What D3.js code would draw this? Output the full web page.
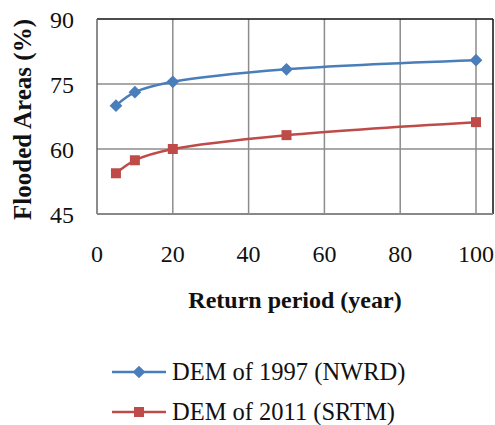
<!DOCTYPE html>
<html><head><meta charset="utf-8">
<script src="https://cdn.jsdelivr.net/npm/d3@7"></script>
<style>body{margin:0;background:#fff}svg{display:block}svg text{font-family:"Liberation Serif";}</style>
</head><body>
<script>
const returnPeriods = [5, 10, 20, 50, 100];
const dem1997 = [70.0, 73.1, 75.5, 78.4, 80.5];
const dem2011 = [54.4, 57.4, 60.0, 63.2, 66.2];
const seriesNames = ["DEM of 1997 (NWRD)", "DEM of 2011 (SRTM)"];
const xTicks = [0, 20, 40, 60, 80, 100];
const yTicks = [45, 60, 75, 90];

(function () {
const W = 495, H = 425;
const pL = 97, pT = 19, pB = 214, pR = 493;
const svg = d3.select("body").append("svg").attr("width", W).attr("height", H);
const font = '"Liberation Serif"';

const x = d3.scaleLinear().domain([0, 100 * (pR - pL) / 379]).range([pL, pR]);
const y = d3.scaleLinear().domain([45, 90]).range([pB, pT]);

// gridlines
svg.append("g").selectAll("line").data(xTicks.filter(d => d > 0)).join("line")
  .attr("x1", d => x(d)).attr("x2", d => x(d)).attr("y1", pT).attr("y2", pB)
  .attr("stroke", "#8c8c8c").attr("stroke-width", 1.5);
svg.append("g").selectAll("line").data(yTicks.filter(d => d > 45 && d < 90)).join("line")
  .attr("x1", pL).attr("x2", pR).attr("y1", d => y(d)).attr("y2", d => y(d))
  .attr("stroke", "#8c8c8c").attr("stroke-width", 1.5);

// plot border
svg.append("line").attr("x1", pL).attr("x2", pR).attr("y1", pT).attr("y2", pT).attr("stroke", "#111").attr("stroke-width", 1.5);
svg.append("line").attr("x1", pR).attr("x2", pR).attr("y1", pT).attr("y2", pB).attr("stroke", "#111").attr("stroke-width", 1.5);
svg.append("line").attr("x1", pL).attr("x2", pL).attr("y1", pT).attr("y2", pB).attr("stroke", "#666").attr("stroke-width", 1.5);
svg.append("line").attr("x1", pL).attr("x2", pR).attr("y1", pB).attr("y2", pB).attr("stroke", "#888").attr("stroke-width", 2);

// axes labels
svg.append("g").selectAll("text").data(yTicks).join("text")
  .attr("x", 74).attr("y", d => y(d) + 9).attr("text-anchor", "end")
  .style("font-family", font).style("font-size", "24px").attr("fill", "#111").text(d => d);
svg.append("g").selectAll("text").data(xTicks).join("text")
  .attr("x", d => x(d)).attr("y", 262).attr("text-anchor", "middle")
  .style("font-family", font).style("font-size", "24px").attr("fill", "#111").text(d => d);

svg.append("text").attr("transform", `translate(31,${(pT + pB) / 2 + 3}) rotate(-90)`)
  .attr("text-anchor", "middle").style("font-family", font).style("font-weight", "bold")
  .style("font-size", "25px").attr("fill", "#111").text("Flooded Areas (%)");
svg.append("text").attr("x", (pL + pR) / 2).attr("y", 308).attr("text-anchor", "middle")
  .style("font-family", font).style("font-weight", "bold").style("font-size", "24px")
  .attr("fill", "#111").text("Return period (year)");

const colors = ["#4A7EBB", "#BE4B48"];
const series = [dem1997, dem2011];
const line = d3.line().x(d => x(d[0])).y(d => y(d[1])).curve(d3.curveCatmullRom.alpha(0.5));

series.forEach((vals, i) => {
  const pts = returnPeriods.map((r, j) => [r, vals[j]]);
  svg.append("path").datum(pts).attr("d", line).attr("fill", "none")
    .attr("stroke", colors[i]).attr("stroke-width", 2.5);
  const g = svg.append("g");
  if (i === 0) {
    g.selectAll("rect").data(pts).join("rect")
      .attr("x", -4.5).attr("y", -4.5).attr("width", 9).attr("height", 9)
      .attr("transform", d => `translate(${x(d[0])},${y(d[1])}) rotate(45)`)
      .attr("fill", colors[i]);
  } else {
    g.selectAll("rect").data(pts).join("rect")
      .attr("x", d => x(d[0]) - 5).attr("y", d => y(d[1]) - 5)
      .attr("width", 10).attr("height", 10).attr("fill", colors[i]);
  }
});

// legend
const legY = [372, 412];
seriesNames.forEach((name, i) => {
  const g = svg.append("g");
  g.append("line").attr("x1", 112).attr("x2", 166).attr("y1", legY[i]).attr("y2", legY[i])
    .attr("stroke", colors[i]).attr("stroke-width", 2.5);
  if (i === 0) {
    g.append("rect").attr("x", -4.5).attr("y", -4.5).attr("width", 9).attr("height", 9)
      .attr("transform", `translate(139,${legY[i]}) rotate(45)`).attr("fill", colors[i]);
  } else {
    g.append("rect").attr("x", 134).attr("y", legY[i] - 5).attr("width", 10).attr("height", 10)
      .attr("fill", colors[i]);
  }
  g.append("text").attr("x", 172).attr("y", legY[i] + 8).style("font-family", font)
    .style("font-size", "24.5px").attr("fill", "#111").text(name);
});
})();
</script>
</body></html>
